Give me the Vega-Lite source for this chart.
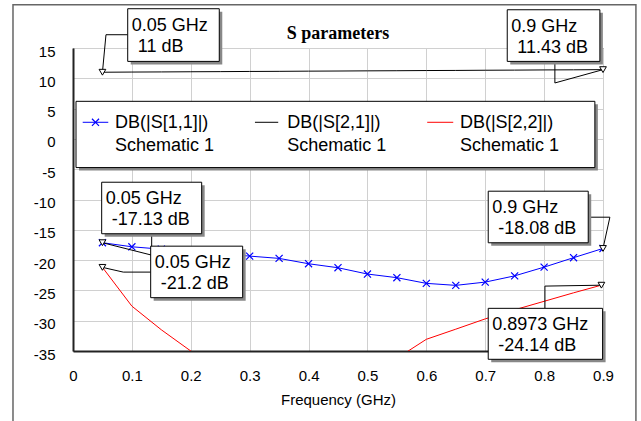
{
  "$schema": "https://vega.github.io/schema/vega-lite/v6.json",
  "width": 530,
  "height": 303,
  "autosize": "none",
  "padding": {"left": 73, "top": 48, "right": 38, "bottom": 70},
  "background": "white",
  "config": {
    "view": {"stroke": "#333333", "strokeWidth": 1},
    "axis": {"domainColor": "#222222", "domainWidth": 2, "ticks": false, "labelFont": "Liberation Sans", "labelFontSize": 15, "labelColor": "black", "labelFlush": false, "gridColor": "#d0d0d0", "gridWidth": 1, "titleFont": "Liberation Sans", "titleFontSize": 15, "titleFontWeight": "normal", "titleColor": "black"}
  },
  "datasets": {
    "curves": [
      {"s": "S11", "x": 0.05, "y": -17.13}, {"s": "S11", "x": 0.1, "y": -17.8}, {"s": "S11", "x": 0.15, "y": -18.2}, {"s": "S11", "x": 0.2, "y": -18.6}, {"s": "S11", "x": 0.25, "y": -18.95}, {"s": "S11", "x": 0.3, "y": -19.34}, {"s": "S11", "x": 0.35, "y": -19.72}, {"s": "S11", "x": 0.4, "y": -20.6}, {"s": "S11", "x": 0.45, "y": -21.26}, {"s": "S11", "x": 0.5, "y": -22.3}, {"s": "S11", "x": 0.55, "y": -22.9}, {"s": "S11", "x": 0.6, "y": -23.84}, {"s": "S11", "x": 0.65, "y": -24.17}, {"s": "S11", "x": 0.7, "y": -23.63}, {"s": "S11", "x": 0.75, "y": -22.6}, {"s": "S11", "x": 0.8, "y": -21.16}, {"s": "S11", "x": 0.85, "y": -19.6}, {"s": "S11", "x": 0.9, "y": -18.08},
      {"s": "S21", "x": 0.05, "y": 11.0}, {"s": "S21", "x": 0.1, "y": 11.03}, {"s": "S21", "x": 0.15, "y": 11.05}, {"s": "S21", "x": 0.2, "y": 11.08}, {"s": "S21", "x": 0.25, "y": 11.1}, {"s": "S21", "x": 0.3, "y": 11.13}, {"s": "S21", "x": 0.35, "y": 11.15}, {"s": "S21", "x": 0.4, "y": 11.18}, {"s": "S21", "x": 0.45, "y": 11.2}, {"s": "S21", "x": 0.5, "y": 11.23}, {"s": "S21", "x": 0.55, "y": 11.25}, {"s": "S21", "x": 0.6, "y": 11.28}, {"s": "S21", "x": 0.65, "y": 11.3}, {"s": "S21", "x": 0.7, "y": 11.33}, {"s": "S21", "x": 0.75, "y": 11.35}, {"s": "S21", "x": 0.8, "y": 11.38}, {"s": "S21", "x": 0.85, "y": 11.4}, {"s": "S21", "x": 0.9, "y": 11.43},
      {"s": "S22", "x": 0.05, "y": -21.2}, {"s": "S22", "x": 0.1, "y": -27.6}, {"s": "S22", "x": 0.15, "y": -31.5}, {"s": "S22", "x": 0.2, "y": -35.0}, {"s": "S22", "x": 0.25, "y": -38.0}, {"s": "S22", "x": 0.3, "y": -41.0}, {"s": "S22", "x": 0.35, "y": -43.0}, {"s": "S22", "x": 0.4, "y": -44.0}, {"s": "S22", "x": 0.45, "y": -43.0}, {"s": "S22", "x": 0.5, "y": -40.5}, {"s": "S22", "x": 0.55, "y": -36.2}, {"s": "S22", "x": 0.6, "y": -33.07}, {"s": "S22", "x": 0.65, "y": -31.4}, {"s": "S22", "x": 0.7, "y": -29.7}, {"s": "S22", "x": 0.75, "y": -28.2}, {"s": "S22", "x": 0.8, "y": -26.8}, {"s": "S22", "x": 0.85, "y": -25.4}, {"s": "S22", "x": 0.9, "y": -24.06}
    ],
    "titletext": [{"x": 0.45, "y": 16.48, "t": "S parameters"}],
    "frame": [{"x": -0.1019, "x2": 0.9559, "y": 22.14, "y2": -48}],
    "legbox": [{"x": 0.0051, "x2": 0.8862, "y": 6.2, "y2": -4.73}],
    "legsym": [
      {"s": "S11", "x": 0.0165, "x2": 0.0599, "y": 2.74},
      {"s": "S21", "x": 0.309, "x2": 0.3485, "y": 2.74},
      {"s": "S22", "x": 0.6015, "x2": 0.6457, "y": 2.74}
    ],
    "legmark": [{"x": 0.0382, "y": 2.74}],
    "legtxt": [
      {"x": 0.0713, "y": 2.69, "t": "DB(|S[1,1]|)"},
      {"x": 0.3638, "y": 2.69, "t": "DB(|S[2,1]|)"},
      {"x": 0.657, "y": 2.69, "t": "DB(|S[2,2]|)"},
      {"x": 0.0713, "y": -1.22, "t": "Schematic 1"},
      {"x": 0.3638, "y": -1.22, "t": "Schematic 1"},
      {"x": 0.657, "y": -1.22, "t": "Schematic 1"}
    ],
    "ann": [
      {"x": 0.0929, "x2": 0.2484, "y": 21.48, "y2": 12.79, "l1": "0.05 GHz", "l2": "11 dB"},
      {"x": 0.7374, "x2": 0.8947, "y": 21.31, "y2": 12.79, "l1": "0.9 GHz", "l2": "11.43 dB"},
      {"x": 0.0487, "x2": 0.2185, "y": -7.15, "y2": -15.65, "l1": "0.05 GHz", "l2": "-17.13 dB"},
      {"x": 0.1319, "x2": 0.2881, "y": -17.7, "y2": -26.2, "l1": "0.05 GHz", "l2": "-21.2 dB"},
      {"x": 0.7051, "x2": 0.8749, "y": -8.63, "y2": -17.14, "l1": "0.9 GHz", "l2": "-18.08 dB"},
      {"x": 0.7051, "x2": 0.8993, "y": -27.96, "y2": -36.37, "l1": "0.8973 GHz", "l2": "-24.14 dB"}
    ],
    "lead": [
      {"id": 1, "o": 1, "x": 0.0929, "y": 17.19}, {"id": 1, "o": 2, "x": 0.056, "y": 17.19}, {"id": 1, "o": 3, "x": 0.05, "y": 11.0},
      {"id": 2, "o": 1, "x": 0.8183, "y": 12.79}, {"id": 2, "o": 2, "x": 0.8183, "y": 9.23}, {"id": 2, "o": 3, "x": 0.9, "y": 11.43},
      {"id": 3, "o": 1, "x": 0.1336, "y": -15.65}, {"id": 3, "o": 2, "x": 0.1336, "y": -19.18}, {"id": 3, "o": 3, "x": 0.05, "y": -17.13},
      {"id": 4, "o": 1, "x": 0.1319, "y": -21.98}, {"id": 4, "o": 2, "x": 0.0854, "y": -21.98}, {"id": 4, "o": 3, "x": 0.05, "y": -21.2},
      {"id": 5, "o": 1, "x": 0.8749, "y": -12.92}, {"id": 5, "o": 2, "x": 0.9117, "y": -12.92}, {"id": 5, "o": 3, "x": 0.9, "y": -18.08},
      {"id": 6, "o": 1, "x": 0.8014, "y": -27.96}, {"id": 6, "o": 2, "x": 0.8014, "y": -24.29}, {"id": 6, "o": 3, "x": 0.8973, "y": -24.14}
    ],
    "tri": [
      {"x": 0.05, "y": 11.0}, {"x": 0.9, "y": 11.43}, {"x": 0.05, "y": -17.13}, {"x": 0.05, "y": -21.2}, {"x": 0.9, "y": -18.08}, {"x": 0.8973, "y": -24.14}
    ]
  },
  "encoding": {
    "x": {"field": "x", "type": "quantitative", "scale": {"domain": [0, 0.9], "nice": false, "zero": false},
          "axis": {"values": [0, 0.1, 0.2, 0.3, 0.4, 0.5, 0.6, 0.7, 0.8, 0.9], "labelExpr": "'' + datum.value", "title": "Frequency (GHz)", "labelPadding": 17, "titlePadding": 9}},
    "y": {"field": "y", "type": "quantitative", "scale": {"domain": [-35, 15], "nice": false, "zero": false},
          "axis": {"values": [-35, -30, -25, -20, -15, -10, -5, 0, 5, 10, 15], "labelExpr": "'' + datum.value", "title": null, "labelPadding": 18, "labelOffset": 3}}
  },
  "layer": [
    {"data": {"name": "frame"}, "mark": {"type": "rect", "fill": null, "fillOpacity": 0, "stroke": "#666666", "strokeWidth": 1.5, "clip": false},
     "encoding": {"x2": {"field": "x2"}, "y2": {"field": "y2"}}},
    {"data": {"name": "titletext"}, "mark": {"type": "text", "align": "center", "baseline": "alphabetic", "font": "Liberation Serif", "fontWeight": "bold", "fontSize": 18, "color": "black", "clip": false},
     "encoding": {"text": {"field": "t"}}},
    {"data": {"name": "curves"}, "mark": {"type": "line", "strokeWidth": 1, "clip": true},
     "encoding": {"color": {"field": "s", "type": "nominal", "scale": {"domain": ["S11", "S21", "S22"], "range": ["#0000ff", "#000000", "#ff0000"]}, "legend": null}, "detail": {"field": "s"}}},
    {"data": {"name": "curves"}, "transform": [{"filter": "datum.s === 'S11'"}],
     "mark": {"type": "point", "shape": "M-1,-1L1,1M-1,1L1,-1", "filled": false, "stroke": "#0000ff", "strokeWidth": 1.2, "size": 50, "opacity": 1, "clip": true},
     "encoding": {}},
    {"data": {"name": "legbox"}, "mark": {"type": "rect", "fill": "#888888", "xOffset": 3, "x2Offset": 3, "yOffset": 3, "y2Offset": 3, "clip": false},
     "encoding": {"x2": {"field": "x2"}, "y2": {"field": "y2"}}},
    {"data": {"name": "legbox"}, "mark": {"type": "rect", "fill": "white", "stroke": "black", "strokeWidth": 1, "clip": false},
     "encoding": {"x2": {"field": "x2"}, "y2": {"field": "y2"}}},
    {"data": {"name": "legsym"}, "mark": {"type": "rule", "strokeWidth": 1, "clip": false},
     "encoding": {"x2": {"field": "x2"}, "color": {"field": "s", "type": "nominal", "scale": {"domain": ["S11", "S21", "S22"], "range": ["#0000ff", "#000000", "#ff0000"]}, "legend": null}}},
    {"data": {"name": "legmark"}, "mark": {"type": "point", "shape": "M-1,-1L1,1M-1,1L1,-1", "filled": false, "stroke": "#0000ff", "strokeWidth": 1.2, "size": 50, "opacity": 1, "clip": false},
     "encoding": {}},
    {"data": {"name": "legtxt"}, "mark": {"type": "text", "align": "left", "baseline": "middle", "font": "Liberation Sans", "fontSize": 18, "color": "black", "clip": false},
     "encoding": {"text": {"field": "t"}}},
    {"data": {"name": "lead"}, "mark": {"type": "line", "color": "black", "strokeWidth": 1, "clip": false},
     "encoding": {"detail": {"field": "id"}, "order": {"field": "o"}}},
    {"data": {"name": "tri"}, "mark": {"type": "point", "shape": "triangle-down", "filled": true, "fill": "white", "stroke": "black", "strokeWidth": 1, "size": 45, "opacity": 1, "clip": false},
     "encoding": {}},
    {"data": {"name": "ann"}, "mark": {"type": "rect", "fill": "#888888", "xOffset": 3, "x2Offset": 3, "yOffset": 3, "y2Offset": 3, "clip": false},
     "encoding": {"x2": {"field": "x2"}, "y2": {"field": "y2"}}},
    {"data": {"name": "ann"}, "mark": {"type": "rect", "fill": "white", "stroke": "black", "strokeWidth": 1, "clip": false},
     "encoding": {"x2": {"field": "x2"}, "y2": {"field": "y2"}}},
    {"data": {"name": "ann"}, "mark": {"type": "text", "align": "left", "baseline": "alphabetic", "dx": 4, "dy": 22, "font": "Liberation Sans", "fontSize": 18, "color": "black", "clip": false},
     "encoding": {"text": {"field": "l1"}}},
    {"data": {"name": "ann"}, "mark": {"type": "text", "align": "left", "baseline": "alphabetic", "dx": 10, "dy": 43, "font": "Liberation Sans", "fontSize": 18, "color": "black", "clip": false},
     "encoding": {"text": {"field": "l2"}}}
  ]
}
